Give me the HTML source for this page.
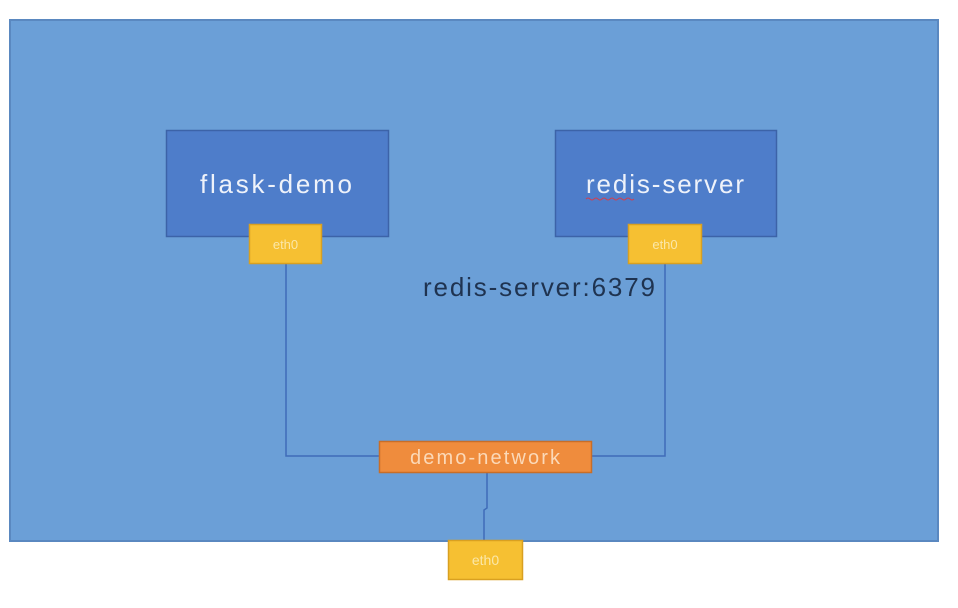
<!DOCTYPE html>
<html><head><meta charset="utf-8"><style>
html,body{margin:0;padding:0;background:#fff;}
svg{display:block;}
text{font-family:"Liberation Sans","DejaVu Sans",sans-serif;}
</style></head><body>
<svg width="958" height="608" viewBox="0 0 958 608" xmlns="http://www.w3.org/2000/svg">
<rect x="0" y="0" width="958" height="608" fill="#ffffff"/>
<rect x="10" y="20" width="928" height="521" fill="#6b9fd7" stroke="#5a88c0" stroke-width="2"/>
<polyline points="286,263 286,456 379,456" fill="none" stroke="#3f6cb8" stroke-width="1.5"/>
<polyline points="665,263 665,456 591,456" fill="none" stroke="#3f6cb8" stroke-width="1.5"/>
<polyline points="487,472 487,508 484,510 484,540" fill="none" stroke="#3f6cb8" stroke-width="1.5"/>
<rect x="166.5" y="130.5" width="222" height="106" fill="#4e7dca" stroke="#3c63a8" stroke-width="1.5"/>
<text x="200" y="193" font-size="26" fill="#eef2fa" textLength="152" lengthAdjust="spacing">flask-demo</text>
<rect x="555.5" y="130.5" width="221" height="106" fill="#4e7dca" stroke="#3c63a8" stroke-width="1.5"/>
<text x="586" y="193" font-size="26" fill="#eef2fa" textLength="158" lengthAdjust="spacing">redis-server</text>
<path d="M586 199 q2 -2 4 0 t4 0 t4 0 t4 0 t4 0 t4 0 t4 0 t4 0 t4 0 t4 0 t4 0 t4 0" fill="none" stroke="#d04050" stroke-width="1"/>
<rect x="249.5" y="224.5" width="72" height="39" fill="#f6c032" stroke="#d9a020" stroke-width="1.5"/>
<text x="285.5" y="249" font-size="13" fill="#fbe7a8" text-anchor="middle">eth0</text>
<rect x="628.5" y="224.5" width="73" height="39" fill="#f6c032" stroke="#d9a020" stroke-width="1.5"/>
<text x="665" y="249" font-size="13" fill="#fbe7a8" text-anchor="middle">eth0</text>
<text x="423" y="296" font-size="26" fill="#1f3350" textLength="232" lengthAdjust="spacing">redis-server:6379</text>
<rect x="379.5" y="441.5" width="212" height="31" fill="#ef8c3d" stroke="#c86e28" stroke-width="1.5"/>
<text x="410" y="464" font-size="20" fill="#fbd9b8" textLength="150" lengthAdjust="spacing">demo-network</text>
<rect x="448.5" y="540.5" width="74" height="39" fill="#f6c032" stroke="#d9a020" stroke-width="1.5"/>
<text x="485.5" y="565" font-size="14" fill="#fbe7a8" text-anchor="middle">eth0</text>
</svg>
</body></html>
